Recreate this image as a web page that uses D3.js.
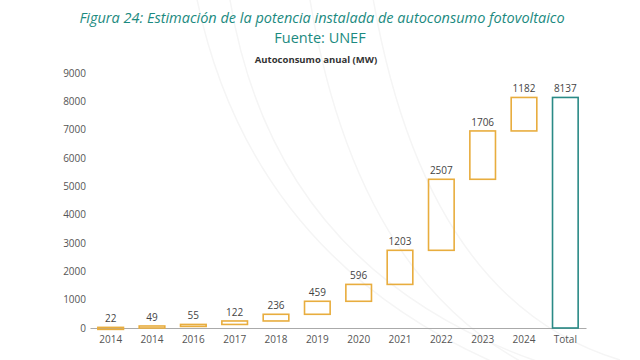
<!DOCTYPE html>
<html>
<head>
<meta charset="utf-8">
<script src="https://cdn.jsdelivr.net/npm/d3@7"></script>
<style>
  body { margin: 0; background: #fff; }
  svg { font-family: "Open Sans", "Lato", sans-serif; }
</style>
</head>
<body>
<div id="chart"></div>
<script>
// chart data
var categories = ['2014a', '2014b', '2016', '2017', '2018', '2019', '2020', '2021', '2022', '2023', '2024', 'Total'];
var tickLabels = ['2014', '2014', '2016', '2017', '2018', '2019', '2020', '2021', '2022', '2023', '2024', 'Total'];
var annualValues = [22, 49, 55, 122, 236, 459, 596, 1203, 2507, 1706, 1182];
var totalValue = 8137;
var yTicks = [0, 1000, 2000, 3000, 4000, 5000, 6000, 7000, 8000, 9000];

var svgWidth = 640, svgHeight = 360;

var margin = { top: 73, bottom: 32, left: 90, right: 54 };
var chartWidth = svgWidth - margin.left - margin.right;
var chartHeight = svgHeight - margin.top - margin.bottom;

var svg = d3.select('#chart').append('svg')
    .attr('width', svgWidth)
    .attr('height', svgHeight);

// faint decorative arcs in the background
var arcs = svg.append('g').attr('fill', 'none').attr('stroke', '#f5f5f5').attr('stroke-width', 1.5);
[[60, 0, 560, 380], [-20, 0, 600, 380], [-60, -40, 600, 400], [120, -20, 620, 360]].forEach(function(a) {
    arcs.append('path')
        .attr('d', 'M' + (250 + a[0]) + ',' + a[1] + ' Q' + (300 + a[0]) + ',300 ' + a[2] + ',' + a[3]);
});

// titles
svg.append('text')
    .attr('x', 322).attr('y', 23)
    .attr('text-anchor', 'middle')
    .attr('font-size', 14.5)
    .attr('font-style', 'italic')
    .attr('fill', '#1b8a80')
    .text('Figura 24: Estimación de la potencia instalada de autoconsumo fotovoltaico');

svg.append('text')
    .attr('x', 320).attr('y', 43)
    .attr('text-anchor', 'middle')
    .attr('font-size', 14.5)
    .attr('fill', '#1b8a80')
    .text('Fuente: UNEF');

svg.append('text')
    .attr('x', 316).attr('y', 63)
    .attr('text-anchor', 'middle')
    .attr('font-size', 9.5)
    .attr('font-weight', 'bold')
    .attr('fill', '#333')
    .text('Autoconsumo anual (MW)');

var chartGroup = svg.append('g')
    .attr('transform', `translate(${margin.left}, ${margin.top})`);

// scales
var xScale = d3.scaleBand()
    .domain(categories)
    .range([0, chartWidth])
    .paddingInner(0.38)
    .paddingOuter(0.19);

var yScale = d3.scaleLinear()
    .domain([0, 9000])
    .range([chartHeight, 0]);

// waterfall rows
var rows = [];
var running = 0;
annualValues.forEach(function(v, i) {
    rows.push({ key: categories[i], start: running, end: running + v, value: v, total: false });
    running += v;
});
rows.push({ key: 'Total', start: 0, end: totalValue, value: totalValue, total: true });

// y axis (labels only)
var leftAxis = d3.axisLeft(yScale).tickValues(yTicks).tickSize(0).tickPadding(4).tickFormat(d3.format('d'));
var yAxis = chartGroup.append('g').call(leftAxis);
yAxis.select('.domain').remove();
yAxis.selectAll('text')
    .attr('font-size', 10)
    .attr('font-family', '"Open Sans", "Lato", sans-serif')
    .attr('fill', '#555');

// x axis
var bottomAxis = d3.axisBottom(xScale)
    .tickSize(0).tickPadding(8)
    .tickFormat(function(d, i) { return tickLabels[i]; });
var xAxis = chartGroup.append('g')
    .attr('transform', `translate(0, ${chartHeight})`)
    .call(bottomAxis);
xAxis.select('.domain').attr('stroke', '#aaa').attr('stroke-width', 1.2);
xAxis.selectAll('text')
    .attr('font-size', 10)
    .attr('font-family', '"Open Sans", "Lato", sans-serif')
    .attr('fill', '#555');

// bars
chartGroup.selectAll('rect.bar')
    .data(rows)
    .enter()
    .append('rect')
    .attr('class', 'bar')
    .attr('x', d => xScale(d.key))
    .attr('y', d => yScale(d.end))
    .attr('width', xScale.bandwidth())
    .attr('height', d => Math.max(2, yScale(d.start) - yScale(d.end)))
    .attr('fill', 'none')
    .attr('stroke', d => d.total ? '#2a8a86' : '#e8ad3e')
    .attr('stroke-width', 1.6);

// value labels
chartGroup.selectAll('text.val')
    .data(rows)
    .enter()
    .append('text')
    .attr('class', 'val')
    .attr('x', d => xScale(d.key) + xScale.bandwidth() / 2)
    .attr('y', d => yScale(d.end) - 5)
    .attr('text-anchor', 'middle')
    .attr('font-size', 10)
    .attr('fill', '#444')
    .text(d => d.value);
</script>
</body>
</html>
